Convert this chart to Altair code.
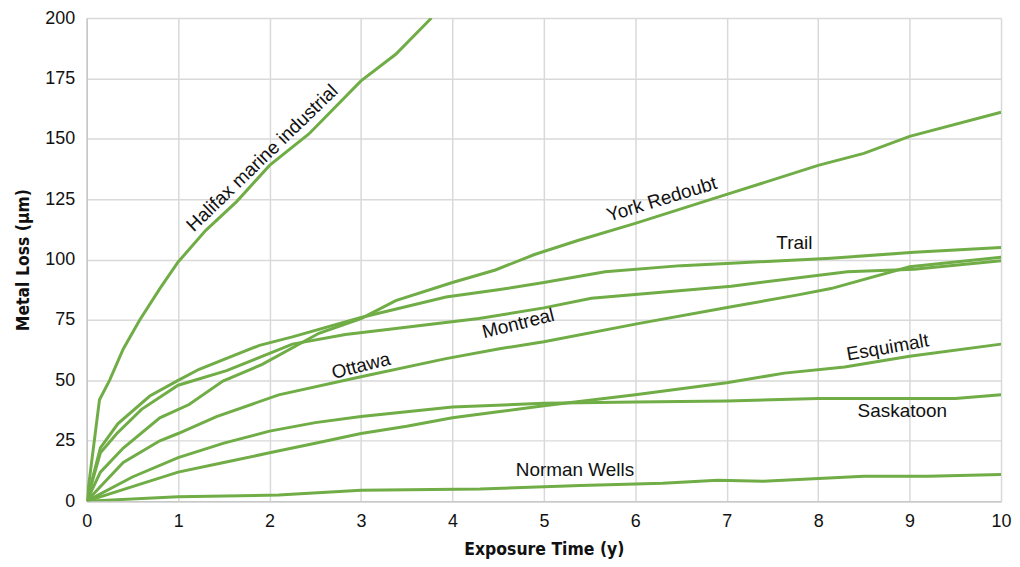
import altair as alt
import pandas as pd

GREEN = "#70AD47"

# Series data (exposure time in years, metal loss in µm)
halifax_x = [0, 0.14, 0.25, 0.4, 0.58, 0.8, 1.0, 1.3, 1.64, 2.0, 2.43, 3.0, 3.38, 3.77]
halifax_y = [0, 42, 50, 63, 75, 88, 99, 112, 124, 139, 152, 174, 185, 200]

york_x = [0, 0.15, 0.4, 0.8, 1.12, 1.49, 1.92, 2.54, 3.0, 3.38, 4.0, 4.47, 4.89, 5.38, 6.0, 7.0, 8.0, 8.5, 9.0, 10]
york_y = [0, 12, 22, 34.5, 40, 49.7, 56.6, 69.5, 75.6, 83, 90.5, 95.7, 102, 108, 115, 127, 139, 144, 151, 161]

trail_x = [0, 0.15, 0.34, 0.69, 1.0, 1.23, 1.89, 2.25, 3.0, 3.93, 4.5, 5.0, 5.67, 6.5, 7.05, 8.14, 9.05, 10]
trail_y = [0, 22, 32, 43.5, 50, 54.6, 64.5, 68, 76, 84.5, 87.5, 90.5, 95, 97.5, 98.5, 100.6, 103, 105]

montreal_x = [0, 0.15, 0.33, 0.6, 1.0, 1.53, 2.25, 2.83, 3.38, 4.29, 5.0, 5.52, 7.05, 8.32, 9.05, 10]
montreal_y = [0, 20, 28, 38, 48, 54, 65, 69, 71.5, 75.6, 80, 84, 89, 95, 96, 99.5]

ottawa_x = [0, 0.2, 0.4, 0.8, 1.0, 1.42, 2.1, 3.0, 3.93, 4.5, 5.0, 6.03, 7.05, 7.78, 8.14, 9.0, 10]
ottawa_y = [0, 8, 16, 25, 28, 35, 44, 51.5, 59, 63, 66, 73.5, 80.5, 85.4, 88, 97, 101]

saskatoon_x = [0, 0.5, 1.0, 1.5, 2.0, 2.5, 3.0, 3.5, 4.0, 5.0, 6.0, 7.0, 8.0, 9.0, 9.5, 10]
saskatoon_y = [0, 10, 18, 24, 29, 32.5, 35, 37, 39, 40.5, 41, 41.5, 42.5, 42.5, 42.5, 44]

esquimalt_x = [0, 0.5, 1.0, 1.5, 2.0, 2.5, 3.0, 3.5, 4.0, 4.5, 5.0, 6.0, 7.0, 7.63, 8.29, 9.0, 10]
esquimalt_y = [0, 6, 12, 16, 20, 24, 28, 31, 34.5, 37, 39.5, 44, 49, 53, 55.5, 60, 65]

norman_x = [0, 1.0, 2.1, 3.0, 4.3, 5.4, 6.3, 6.9, 7.4, 8.5, 9.2, 10]
norman_y = [0, 1.8, 2.5, 4.5, 5, 6.5, 7.4, 8.6, 8.2, 10.3, 10.3, 11]

series = {
    "Halifax marine industrial": (halifax_x, halifax_y),
    "York Redoubt": (york_x, york_y),
    "Trail": (trail_x, trail_y),
    "Montreal": (montreal_x, montreal_y),
    "Ottawa": (ottawa_x, ottawa_y),
    "Saskatoon": (saskatoon_x, saskatoon_y),
    "Esquimalt": (esquimalt_x, esquimalt_y),
    "Norman Wells": (norman_x, norman_y),
}

rows = []
for name, (xs, ys) in series.items():
    for xv, yv in zip(xs, ys):
        rows.append({"series": name, "t": xv, "loss": yv})
df = pd.DataFrame(rows)

# Labels placed along the curves
label_text = ["Halifax marine industrial", "York Redoubt", "Trail", "Montreal",
              "Ottawa", "Esquimalt", "Saskatoon", "Norman Wells"]
label_x = [1.92, 6.29, 7.74, 4.72, 3.0, 8.76, 8.92, 5.34]
label_y = [142, 125, 107, 73.5, 56, 63.6, 37.4, 12.7]
label_angle = [316, 343, 0, 346, 346, 350, 0, 0]

x_scale = alt.Scale(domain=[0, 10], nice=False, zero=True)
y_scale = alt.Scale(domain=[0, 200], nice=False)

lines = alt.Chart(df).mark_line(color=GREEN, strokeWidth=3, clip=True).encode(
    x=alt.X("t:Q", scale=x_scale,
            axis=alt.Axis(title="Exposure Time (y)", values=list(range(0, 11)),
                          format="d", labelFlush=False, labelPadding=11, titlePadding=11)),
    y=alt.Y("loss:Q", scale=y_scale,
            axis=alt.Axis(title="Metal Loss (µm)", values=list(range(0, 201, 25)),
                          format="d", labelPadding=12, titlePadding=12)),
    detail="series:N",
    order="t:Q",
)

layers = [lines]
for txt, lx, ly, ang in zip(label_text, label_x, label_y, label_angle):
    ldf = pd.DataFrame({"t": [lx], "loss": [ly], "label": [txt]})
    layers.append(
        alt.Chart(ldf).mark_text(angle=ang, fontSize=19, font="Liberation Sans",
                                 color="#111111", align="center", baseline="middle").encode(
            x=alt.X("t:Q", scale=x_scale),
            y=alt.Y("loss:Q", scale=y_scale),
            text="label:N",
        )
    )

chart = alt.layer(*layers).properties(
    width=918, height=485,
    padding={"left": 6, "top": 0, "right": 0, "bottom": 0},
).configure_view(stroke=None).configure_axis(
    grid=True,
    gridColor="#d9d9d9",
    gridWidth=1.5,
    domainColor="#c8c8c8",
    domainWidth=1.5,
    ticks=False,
    labelFont="Liberation Sans",
    labelFontSize=18,
    labelColor="#111111",
    titleFont="DejaVu Sans Condensed, Liberation Sans, sans-serif",
    titleFontSize=17.5,
    titleFontWeight="bold",
    titleColor="#111111",
)

chart.save("out.html", embed_options={"renderer": "svg", "actions": False})
